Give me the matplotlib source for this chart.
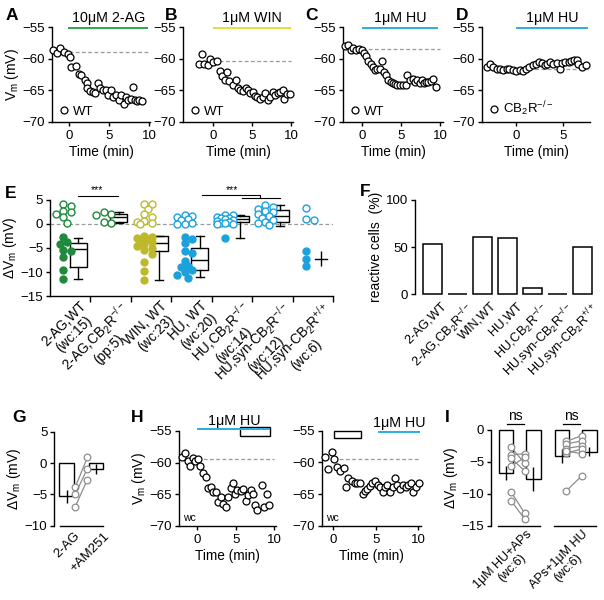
import numpy as np
import matplotlib
matplotlib.use('Agg')
import matplotlib.pyplot as plt
from matplotlib.patches import Rectangle
from matplotlib.lines import Line2D

plt.rcParams['font.family'] = ['Liberation Sans', 'DejaVu Sans']
plt.rcParams['mathtext.fontset'] = 'custom'
plt.rcParams['mathtext.rm'] = 'Liberation Sans'
plt.rcParams['mathtext.it'] = 'Liberation Sans:italic'
plt.rcParams['mathtext.default'] = 'regular'
plt.rcParams['font.size'] = 9.5
plt.rcParams['axes.linewidth'] = 1.0
for _a in ('xtick', 'ytick'):
    plt.rcParams[_a + '.major.width'] = 1.0
    plt.rcParams[_a + '.major.size'] = 3
    plt.rcParams[_a + '.major.pad'] = 2
    plt.rcParams[_a + '.labelsize'] = 9.5
    plt.rcParams[_a + '.direction'] = 'out'

GREEN = '#1f8a3b'
OLIVE = '#bdb92a'
BLUE = '#1ba2dd'
GREEN_LINE = '#2aa84a'
YELLOW_LINE = '#e4df3a'
BLUE_LINE = '#2aaee3'
GRAY = '#999999'

# ---------------- data: traces ----------------
a_t = [-1.96, -1.54, -1.1, -0.6, -0.1, 0.1, 0.3, 0.9, 1.2, 1.5, 2.0, 2.2, 2.3, 2.6, 3.0, 3.25, 3.6, 3.9,
       4.3, 4.6, 4.9, 5.25, 5.5, 5.9, 6.2, 6.5, 6.9, 7.1, 7.4, 7.7, 7.95, 8.2, 8.5, 8.8, 9.1]
a_v = [-58.6, -59.1, -58.3, -58.9, -59.2, -59.7, -61.3, -61.2, -62.5, -62.6, -63.3, -63.8, -64.7, -65.1,
       -65.3, -65.5, -63.9, -64.7, -65.0, -64.9, -65.8, -65.0, -66.0, -65.8, -66.6, -65.8, -67.2, -66.05,
       -66.5, -66.4, -64.4, -66.6, -66.7, -66.6, -66.7]
a_base = -58.9

b_t = [-1.75, -1.45, -1.1, -0.7, -0.43, 0.0, 0.5, 0.85, 1.15, 1.5, 1.8, 2.1, 2.55, 2.9, 3.2, 3.5, 3.85,
       4.2, 4.45, 4.8, 5.1, 5.4, 5.7, 6.05, 6.4, 6.7, 7.05, 7.35, 7.7, 8.0, 8.3, 8.6, 8.97, 9.15, 9.5, 9.9]
b_v = [-60.8, -59.2, -60.9, -61.05, -60.0, -60.5, -60.3, -61.9, -62.8, -63.4, -62.1, -63.6, -64.2, -63.4,
       -64.6, -65.0, -65.1, -64.7, -64.9, -65.4, -65.3, -65.9, -66.05, -66.4, -66.05, -65.5, -66.5, -66.05,
       -65.3, -65.8, -65.4, -65.3, -65.0, -66.3, -65.6, -65.6]
b_base = -60.4

c_t = [-2.1, -1.7, -1.4, -1.06, -0.7, -0.34, 0.0, 0.34, 0.55, 0.85, 1.15, 1.4, 1.7, 2.0, 2.3, 2.55, 2.8,
       3.06, 3.3, 3.7, 3.95, 4.25, 4.5, 4.9, 5.3, 5.6, 5.8, 6.2, 6.5, 6.8, 7.03, 7.4, 7.7, 8.0, 8.2, 8.5,
       8.8, 9.15, 9.5]
c_v = [-58.05, -57.9, -58.7, -58.3, -58.6, -58.4, -58.7, -59.1, -59.6, -60.3, -60.8, -61.3, -61.8, -61.6,
       -61.6, -60.4, -62.1, -62.6, -63.3, -63.7, -63.9, -64.05, -64.2, -64.2, -64.2, -64.2, -62.6, -63.4,
       -63.2, -63.7, -63.4, -63.8, -63.4, -63.9, -63.7, -63.7, -63.5, -63.2, -64.4]
c_base = -58.4

d_t = [-3.1, -2.75, -2.4, -2.05, -1.7, -1.35, -1.0, -0.7, -0.35, 0.0, 0.4, 0.75, 1.1, 1.4, 1.76, 2.1,
       2.4, 2.7, 3.05, 3.3, 3.6, 3.9, 4.3, 4.6, 4.9, 5.2, 5.6, 5.8, 6.1, 6.4, 6.6, 7.0, 7.35]
d_v = [-61.3, -60.9, -61.3, -61.6, -61.7, -61.8, -61.7, -61.6, -61.8, -61.95, -61.8, -61.95, -61.7,
       -61.3, -61.05, -60.8, -60.5, -60.7, -61.05, -60.9, -60.5, -60.8, -60.7, -61.6, -60.7, -60.5,
       -60.5, -60.4, -60.2, -60.2, -60.8, -61.3, -61.05]
d_base = -61.6

h1_t = [-2.0, -1.6, -1.26, -0.96, -0.6, -0.3, 0.13, 0.35, 0.8, 1.1, 1.4, 1.74, 2.1, 2.4, 2.7, 3.04, 3.4,
        3.7, 4.04, 4.4, 4.6, 4.9, 5.2, 5.65, 6.0, 6.35, 6.65, 6.96, 7.2, 7.5, 7.8, 8.4, 8.7, 9.04, 9.4]
h1_v = [-59.05, -58.5, -59.7, -60.5, -59.2, -59.7, -59.5, -60.6, -61.6, -62.3, -64.05, -63.8, -64.6,
        -64.7, -66.2, -65.5, -66.5, -67.05, -65.5, -64.05, -63.2, -64.9, -64.3, -64.4, -64.2, -66.0,
        -65.1, -64.3, -64.9, -66.7, -67.4, -63.5, -67.05, -64.9, -66.7]
h1_base = -59.5

h2_t = [-0.98, -0.6, -0.2, 0.12, 0.4, 0.8, 1.2, 1.45, 1.76, 2.16, 2.5, 2.8, 3.14, 3.45, 3.7, 4.0, 4.3,
        4.6, 4.9, 5.2, 5.5, 5.8, 6.1, 6.35, 6.7, 7.0, 7.25, 7.5, 7.8, 8.15, 8.5, 8.75, 9.1, 9.4, 9.7, 10.05]
h2_v = [-59.2, -61.05, -58.3, -59.5, -60.7, -61.3, -60.9, -63.9, -62.5, -62.9, -63.2, -63.3, -63.3,
        -65.0, -64.5, -64.1, -63.7, -63.3, -62.9, -63.5, -63.9, -64.6, -63.9, -63.5, -64.6, -63.8, -62.5,
        -63.5, -64.2, -63.6, -63.9, -63.5, -63.2, -64.6, -63.9, -63.3]
h2_base = -59.4

# ---------------- data: panel E ----------------
e_labels = ['2-AG,WT\n(wc:15)', '2-AG,CB$_2$R$^{-/-}$\n(pp:5)', 'WIN, WT\n(wc:23)', 'HU, WT\n(wc:20)',
            'HU,CB$_2$R$^{-/-}$\n(wc:14)', 'HU,syn-CB$_2$R$^{-/-}$\n(wc:12)', 'HU,syn-CB$_2$R$^{+/+}$\n(wc:6)']
e_open = [
    [4.2, 3.8, 2.7, 2.4, 2.0, 1.5, 0.3],
    [2.5, 2.0, 1.9, 0.4, 0.3],
    [4.2, 4.1, 3.1, 2.0, 1.5, 0.6, 0.4, 0.2, 0.0],
    [1.8, 1.7, 1.5, 1.0, 0.9, 0.2, 0.1, 0.0],
    [1.9, 1.8, 1.5, 1.3, 1.2, 1.0, 0.9, 0.7, 0.5, 0.3, 0.2, 0.0, 0.1],
    [4.0, 3.6, 3.2, 2.8, 2.5, 2.0, 1.7, 1.2, 0.8, 0.5, 0.3, -0.3],
    [3.3, 1.0, 0.9],
]
e_filled = [
    [-2.8, -3.8, -4.1, -5.5, -5.7, -6.9, -9.5, -11.4],
    [],
    [-2.5, -2.7, -3.0, -3.2, -3.5, -3.8, -4.2, -4.5, -5.0, -5.5, -6.3, -8.0, -9.8, -11.7],
    [-2.7, -3.2, -4.0, -5.6, -6.0, -7.8, -8.8, -9.0, -9.5, -10.0, -10.6, -11.2],
    [-3.0],
    [],
    [-5.6, -7.2, -8.8],
]
e_colors = [GREEN, GREEN, OLIVE, BLUE, BLUE, BLUE, BLUE]
# box stats (whislo, q1, med, q3, whishi) for first six groups
e_box = [
    (-11.4, -8.9, -5.3, -3.9, -2.9),
    (0.3, 0.5, 1.5, 2.1, 2.5),
    (-11.7, -5.6, -4.0, -2.6, -2.4),
    (-11.1, -9.6, -7.5, -5.0, -2.6),
    (-2.9, 0.4, 1.0, 1.6, 1.9),
    (-0.35, 0.35, 1.6, 2.9, 3.9),
]
e_last_mean, e_last_err = -7.2, 1.5

# ---------------- data: panel F ----------------
f_labels = ['2-AG,WT', '2-AG,CB$_2$R$^{-/-}$', 'WIN,WT', 'HU,WT', 'HU,CB$_2$R$^{-/-}$',
            'HU,syn-CB$_2$R$^{-/-}$', 'HU,syn-CB$_2$R$^{+/+}$']
f_values = [53.3, 0.0, 60.9, 60.0, 7.1, 0.0, 50.0]

# ---------------- data: panel G ----------------
g_labels = ['2-AG', '+AM251']
g_means = [-5.3, -1.0]
g_errs = [1.0, 0.8]
g_before = [-3.9, -5.0, -7.0]
g_after = [0.9, -0.9, -2.65]

# ---------------- data: panel I ----------------
i_labels = ['1μM HU+APs\n(wc:6)', 'APs+1μM HU\n(wc:6)']
i_means = [[-6.8, -7.7], [-4.0, -3.4]]
i_errs = [[1.1, 1.9], [1.1, 0.75]]
i_first = [[-2.7, -3.9, -4.4, -5.7, -9.7, -11.1], [-1.8, -2.2, -2.9, -3.6, -3.3, -9.6]]
i_second = [[-5.2, -3.7, -6.4, -4.3, -13.0, -13.9], [-0.9, -1.7, -2.5, -3.0, -3.7, -7.2]]

# ---------------- layout helpers ----------------
W, H = 604, 600
fig = plt.figure(figsize=(W / 100, H / 100), dpi=100)


def px_ax(x0, x1, y0, y1):
    return fig.add_axes([x0 / W, 1 - y1 / H, (x1 - x0) / W, (y1 - y0) / H])


def map_lim(p0, p1, pa, va, pb, vb):
    s = (pb - pa) / (vb - va)
    return va + (p0 - pa) / s, va + (p1 - pa) / s


def letter(x, y, s):
    fig.text(x / W, 1 - y / H, s, fontsize=12.5, fontweight='bold', ha='left', va='center')


def clean(ax):
    ax.spines['top'].set_visible(False)
    ax.spines['right'].set_visible(False)


def trace(ax, t, v, base, base_span, drug_span, drug_color, drug_label, leg, ylabel=True,
          xticks=(0, 5, 10)):
    clean(ax)
    ax.plot(base_span, [base, base], ls=(0, (3, 2)), color=GRAY, lw=0.9, zorder=1)
    ax.plot(t, v, 'o', ms=5.0, mfc='white', mec='black', mew=0.9, clip_on=False, zorder=3)
    ax.set_ylim(-70, -55)
    ax.set_yticks([-70, -65, -60, -55])
    ax.set_xticks(list(xticks))
    ax.tick_params(axis='x', pad=3)
    ax.set_xlabel('Time (min)', fontsize=9.8, labelpad=2)
    if ylabel:
        ax.set_ylabel('V$_m$ (mV)', fontsize=10, labelpad=1)
    if drug_span is not None:
        ax.plot(drug_span, [-55.1, -55.1], color=drug_color, lw=1.4, clip_on=False, solid_capstyle='butt')
        ax.text(np.mean(drug_span), -54.75, drug_label, ha='center', va='bottom', fontsize=10.3)
    if leg is not None:
        h = Line2D([], [], marker='o', ls='none', mfc='white', mec='black', mew=0.9, ms=5.0)
        ax.legend([h], [leg], loc='lower left', frameon=False, handletextpad=0.1, borderaxespad=0.1,
                  handlelength=1.2, fontsize=9.5, borderpad=0.2)


# ---------------- A-D ----------------
axA = px_ax(52, 150, 27, 122)
axA.set_xlim(map_lim(52, 150, 69, 0, 149, 10))
trace(axA, a_t, a_v, a_base, [0, 9.9], [-0.1, 9.9], GREEN_LINE, '10μM 2-AG', 'WT')
letter(6, 15, 'A')

axB = px_ax(183, 293, 27, 122)
axB.set_xlim(map_lim(183, 293, 213, 0, 291, 10))
trace(axB, b_t, b_v, b_base, [0, 10], [0, 10], YELLOW_LINE, '1μM WIN', 'WT', ylabel=False)
letter(165, 15, 'B')

axC = px_ax(343, 443, 27, 122)
axC.set_xlim(map_lim(343, 443, 361.7, 0, 440, 10))
trace(axC, c_t, c_v, c_base, [0, 10], [0, 9.8], BLUE_LINE, '1μM HU', 'WT', ylabel=False)
letter(305, 15, 'C')

axD = px_ax(482, 590, 27, 122)
axD.set_xlim(map_lim(482, 590, 516, 0, 563.3, 5))
trace(axD, d_t, d_v, d_base, [0, 7.6], [0, 7.6], BLUE_LINE, '1μM HU', 'CB$_2$R$^{-/-}$', ylabel=False,
      xticks=(0, 5))
letter(456, 15, 'D')

# ---------------- E ----------------
axE = px_ax(50, 333, 200, 296)
clean(axE)
axE.set_xlim(-0.5, 6.5)
axE.set_ylim(-15, 5)
axE.set_yticks([-15, -10, -5, 0, 5])
axE.set_xticks([0.5, 1.5, 2.5, 3.5, 4.5, 5.5, 6.5])
axE.set_xticklabels([])
axE.tick_params(axis='x', length=4)
axE.set_ylabel('ΔV$_m$ (mV)', fontsize=10, labelpad=1)
axE.axhline(0, ls=(0, (3, 2)), color=GRAY, lw=0.9, zorder=0)
XS, YS, DIAM = 40.4, 4.8, 6.3


def swarm(vals, center):
    xs = np.zeros(len(vals))
    placed = []
    for i in np.argsort(vals)[::-1]:
        y = vals[i] * YS
        best, bestd = 0.0, -1
        for k in [0, 1, -1, 2, -2]:
            x = k * 3.8
            md = min([np.hypot(x - px, y - py) for px, py in placed] + [99])
            if md >= DIAM * 0.95:
                best = x
                break
            if md > bestd:
                best, bestd = x, md
        placed.append((best, y))
        xs[i] = center + best / XS
    return xs


for i in range(7):
    col = e_colors[i]
    c = i - 0.17
    allv = np.array(e_open[i] + e_filled[i])
    xs = swarm(allv, c)
    n = len(e_open[i])
    axE.plot(xs[:n], allv[:n], 'o', ms=5.0, mfc='white', mec=col, mew=1.0, clip_on=False, zorder=3)
    if e_filled[i]:
        axE.plot(xs[n:], allv[n:], 'o', ms=5.0, mfc=col, mec=col, mew=1.0, clip_on=False, zorder=3)
stats = []
for lo, q1, med, q3, hi in e_box:
    stats.append(dict(whislo=lo, q1=q1, med=med, q3=q3, whishi=hi))
axE.bxp(stats, positions=[i + 0.2 for i in range(6)], widths=0.42, showfliers=False, capwidths=0.2,
        boxprops=dict(color='black', lw=1.0), whiskerprops=dict(color='black', lw=1.0),
        capprops=dict(color='black', lw=1.0), medianprops=dict(color='black', lw=1.0),
        manage_ticks=False)
axE.errorbar([6.2], [e_last_mean], yerr=[e_last_err], fmt='none', ecolor='black', elinewidth=1.0,
             capsize=0)
axE.plot([6.06, 6.34], [e_last_mean, e_last_mean], color='black', lw=1.0)
for i, lab in enumerate(e_labels):
    axE.text(i + 0.22, -15.6, lab, rotation=45, rotation_mode='anchor', ha='right', va='top',
             multialignment='center', fontsize=9.8, clip_on=False, linespacing=1.05)
# significance
axE.plot([0.19, 1.18], [5.9, 5.9], color='black', lw=0.8, clip_on=False)
axE.text(0.66, 6.0, '***', ha='center', va='bottom', fontsize=7.5)
axE.plot([3.25, 4.69, 4.69], [5.95, 5.95, 5.45], color='black', lw=0.8, clip_on=False)
axE.plot([4.24, 5.18], [5.45, 5.45], color='black', lw=0.8, clip_on=False)
axE.text(4.0, 6.05, '***', ha='center', va='bottom', fontsize=7.5)
letter(5, 193, 'E')

# ---------------- F ----------------
axF = px_ax(415, 598, 200, 294.3)
clean(axF)
axF.spines['bottom'].set_visible(False)
axF.set_xlim(map_lim(415, 598, 432, 0, 582, 6))
axF.set_ylim(0, 100)
axF.set_yticks([0, 50, 100])
axF.set_xticks([])
fx = np.arange(len(f_values))
axF.bar(fx, f_values, width=0.76, facecolor='white', edgecolor='black', lw=1.1, clip_on=False)
axF.set_ylabel('reactive cells  (%)', fontsize=10, labelpad=2)
for i, lab in enumerate(f_labels):
    axF.text(i + 0.35, -6, lab, rotation=45, rotation_mode='anchor', ha='right', va='top',
             fontsize=9.2, clip_on=False)
letter(360, 191, 'F')

# ---------------- G ----------------
axG = px_ax(54.3, 106, 431.7, 525.7)
clean(axG)
axG.set_xlim(map_lim(54.3, 106, 66.7, 0, 95.8, 1))
axG.set_ylim(-10, 5)
axG.set_yticks([-10, -5, 0, 5])
axG.set_xticks([])
axG.spines['bottom'].set_bounds(-0.23, 1.25)
axG.bar([0, 1], g_means, width=0.5, facecolor='white', edgecolor='black', lw=1.0, zorder=1)
axG.errorbar([0, 1], g_means, yerr=g_errs, fmt='none', ecolor='black', elinewidth=1.0, capsize=0, zorder=2)
for b, a in zip(g_before, g_after):
    axG.plot([0.29, 0.71], [b, a], '-o', color='#8c8c8c', lw=0.9, ms=4.8, mfc='white', mec='#8c8c8c',
             mew=0.9, zorder=3)
axG.set_ylabel('ΔV$_m$ (mV)', fontsize=10, labelpad=1)
for i, lab in enumerate(g_labels):
    axG.text(i + 0.25, -10.7, lab, rotation=45, rotation_mode='anchor', ha='right', va='top',
             fontsize=9.5, clip_on=False)
letter(12, 417, 'G')

# ---------------- H ----------------
axH1 = px_ax(179, 276, 431, 526)
axH1.set_xlim(map_lim(179, 276, 197.3, 0, 274, 10))
trace(axH1, h1_t, h1_v, h1_base, [0, 10], None, None, None, None)
axH1.plot([0, 9.5], [-54.7, -54.7], color=BLUE_LINE, lw=1.4, clip_on=False, solid_capstyle='butt')
axH1.add_patch(Rectangle((5.6, -55.75), 3.9, 1.45, facecolor='none', edgecolor='black', lw=1.0,
                         clip_on=False))
axH1.text(4.8, -54.55, '1μM HU', ha='center', va='bottom', fontsize=10.3)
axH1.text(0.04, 0.03, 'wc', transform=axH1.transAxes, fontsize=7.5, ha='left', va='bottom')
letter(131, 417, 'H')

axH2 = px_ax(321.7, 421, 430.7, 526)
axH2.set_xlim(map_lim(321.7, 421, 333.3, 0, 418.3, 10))
trace(axH2, h2_t, h2_v, h2_base, [0, 10], None, None, None, None, ylabel=False)
axH2.plot([5.2, 10.2], [-55.15, -55.15], color=BLUE_LINE, lw=1.4, clip_on=False, solid_capstyle='butt')
axH2.add_patch(Rectangle((0.1, -56.1), 3.1, 1.1, facecolor='none', edgecolor='black', lw=1.0,
                         clip_on=False))
axH2.text(7.8, -54.9, '1μM HU', ha='center', va='bottom', fontsize=10.3)
axH2.text(0.04, 0.03, 'wc', transform=axH2.transAxes, fontsize=7.5, ha='left', va='bottom')

# ---------------- I ----------------
axI = px_ax(491, 598, 430, 525.7)
clean(axI)
axI.spines['bottom'].set_visible(False)
axI.set_xlim(map_lim(491, 598, 519.5, 0, 575.5, 1))
axI.set_ylim(-15, 0)
axI.set_yticks([-15, -10, -5, 0])
axI.set_xticks([])
axI.set_ylabel('ΔV$_m$ (mV)', fontsize=10, labelpad=1)
for g in range(2):
    xb = [g - 0.245, g + 0.245]
    axI.bar(xb, i_means[g], width=0.26, facecolor='white', edgecolor='black', lw=1.0, zorder=1,
            clip_on=False)
    axI.errorbar(xb, i_means[g], yerr=i_errs[g], fmt='none', ecolor='black', elinewidth=1.0, capsize=0,
                 zorder=2)
    xl = g - 0.15 if g == 0 else g - 0.17
    xr = g + 0.09 if g == 0 else g + 0.11
    for b, a in zip(i_first[g], i_second[g]):
        axI.plot([xl, xr], [b, a], '-o', color='#8c8c8c', lw=0.9, ms=4.8, mfc='white', mec='#8c8c8c',
                 mew=0.9, zorder=3)
    axI.plot([g - 0.38, g + 0.37], [-15, -15], color='black', lw=1.0, clip_on=False)
    axI.plot([g - 0.23, g + 0.08], [0.94, 0.94], color='black', lw=0.9, clip_on=False)
    axI.text(g - 0.075, 1.1, 'ns', ha='center', va='bottom', fontsize=10)
    axI.text(g + 0.12, -15.4, i_labels[g], rotation=45, rotation_mode='anchor', ha='right', va='top',
             multialignment='center', fontsize=9, clip_on=False, linespacing=0.95)
letter(445, 417, 'I')

fig.savefig('out.png', dpi=100)
